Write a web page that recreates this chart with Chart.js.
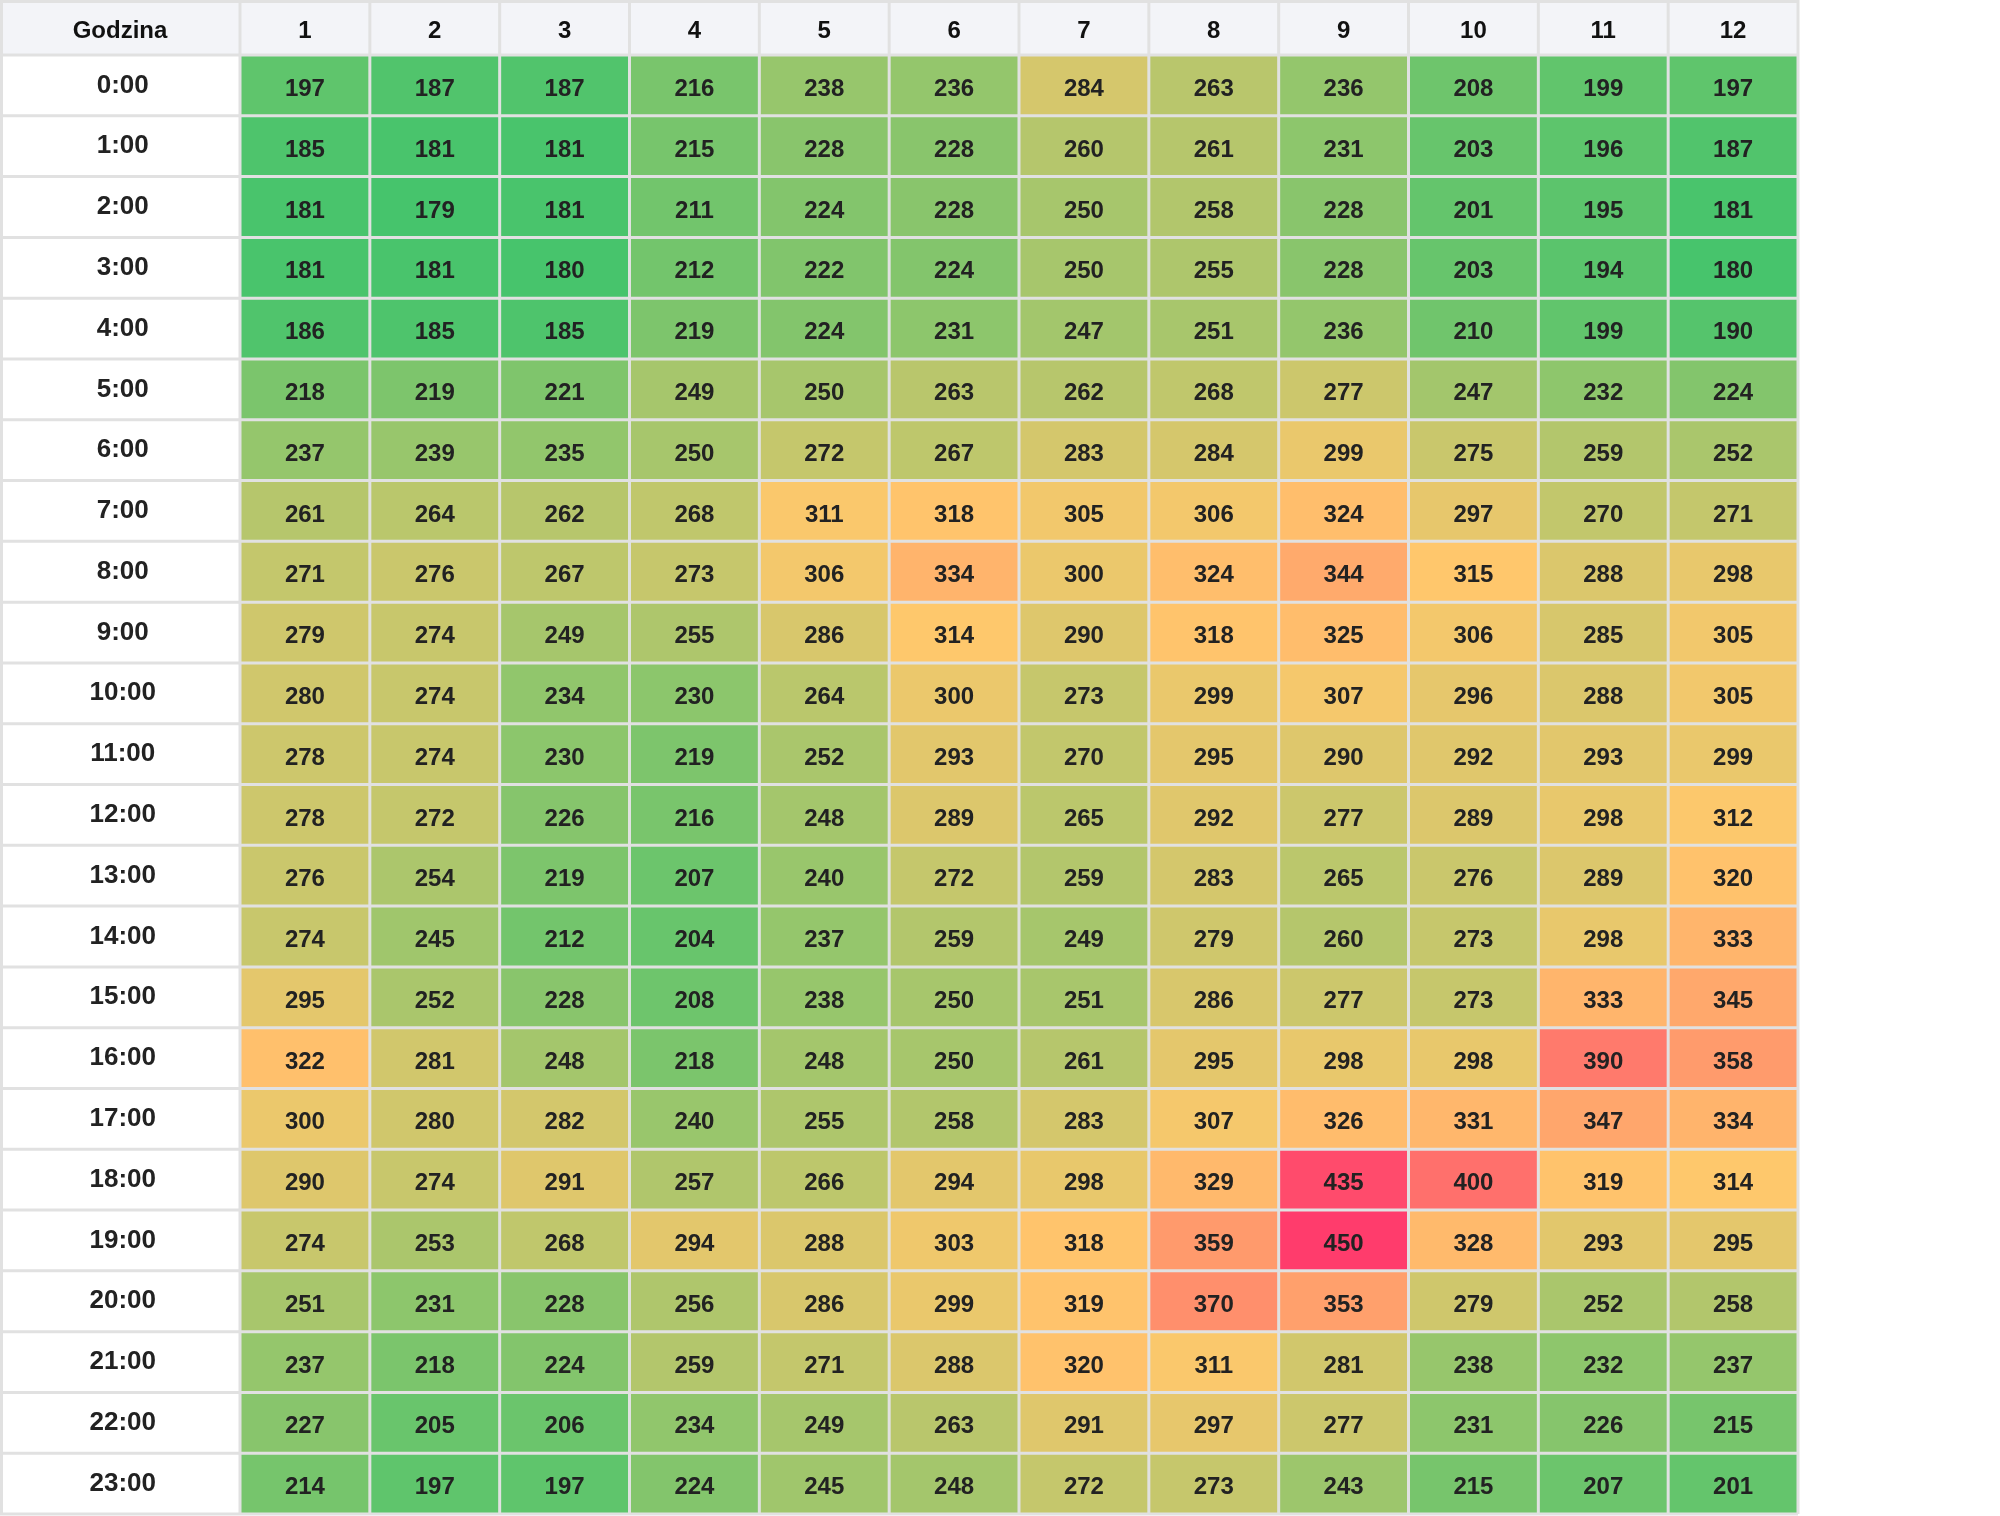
<!DOCTYPE html>
<html>
<head>
<meta charset="utf-8">
<title>Godzina</title>
<script src="https://cdn.jsdelivr.net/npm/chart.js@4.4.1/dist/chart.umd.min.js"></script>
<style>
  html, body { margin: 0; padding: 0; background: #fff; }
</style>
</head>
<body>
<canvas id="heat" width="2000" height="1516"></canvas>
<script>
/* table data */
const cornerLabel = 'Godzina';
const columns = ['1', '2', '3', '4', '5', '6', '7', '8', '9', '10', '11', '12'];
const hours = ['0:00', '1:00', '2:00', '3:00', '4:00', '5:00', '6:00', '7:00', '8:00', '9:00', '10:00', '11:00',
               '12:00', '13:00', '14:00', '15:00', '16:00', '17:00', '18:00', '19:00', '20:00', '21:00', '22:00', '23:00'];
const values = [
  [197, 187, 187, 216, 238, 236, 284, 263, 236, 208, 199, 197],
  [185, 181, 181, 215, 228, 228, 260, 261, 231, 203, 196, 187],
  [181, 179, 181, 211, 224, 228, 250, 258, 228, 201, 195, 181],
  [181, 181, 180, 212, 222, 224, 250, 255, 228, 203, 194, 180],
  [186, 185, 185, 219, 224, 231, 247, 251, 236, 210, 199, 190],
  [218, 219, 221, 249, 250, 263, 262, 268, 277, 247, 232, 224],
  [237, 239, 235, 250, 272, 267, 283, 284, 299, 275, 259, 252],
  [261, 264, 262, 268, 311, 318, 305, 306, 324, 297, 270, 271],
  [271, 276, 267, 273, 306, 334, 300, 324, 344, 315, 288, 298],
  [279, 274, 249, 255, 286, 314, 290, 318, 325, 306, 285, 305],
  [280, 274, 234, 230, 264, 300, 273, 299, 307, 296, 288, 305],
  [278, 274, 230, 219, 252, 293, 270, 295, 290, 292, 293, 299],
  [278, 272, 226, 216, 248, 289, 265, 292, 277, 289, 298, 312],
  [276, 254, 219, 207, 240, 272, 259, 283, 265, 276, 289, 320],
  [274, 245, 212, 204, 237, 259, 249, 279, 260, 273, 298, 333],
  [295, 252, 228, 208, 238, 250, 251, 286, 277, 273, 333, 345],
  [322, 281, 248, 218, 248, 250, 261, 295, 298, 298, 390, 358],
  [300, 280, 282, 240, 255, 258, 283, 307, 326, 331, 347, 334],
  [290, 274, 291, 257, 266, 294, 298, 329, 435, 400, 319, 314],
  [274, 253, 268, 294, 288, 303, 318, 359, 450, 328, 293, 295],
  [251, 231, 228, 256, 286, 299, 319, 370, 353, 279, 252, 258],
  [237, 218, 224, 259, 271, 288, 320, 311, 281, 238, 232, 237],
  [227, 205, 206, 234, 249, 263, 291, 297, 277, 231, 226, 215],
  [214, 197, 197, 224, 245, 248, 272, 273, 243, 215, 207, 201]
];

/* colour scale green -> amber -> red */
const allVals = values.flat();
const vMin = Math.min(...allVals);
const vMax = Math.max(...allVals);
const cLow = [70, 196, 108];
const cMid = [255, 200, 108];
const cHigh = [255, 60, 108];

function heatColor(v) {
  const mid = (vMin + vMax) / 2;
  let a, b, t;
  if (v <= mid) { a = cLow; b = cMid; t = (v - vMin) / (mid - vMin); }
  else { a = cMid; b = cHigh; t = (v - mid) / (vMax - mid); }
  const c = a.map((x, i) => Math.round(x + (b[i] - x) * t));
  return 'rgb(' + c.join(',') + ')';
}

const FONT = "'Liberation Sans', Arial, sans-serif";
const LINE = '#e1e1e1';

/* one dataset per hour row, floating bars from row i to i+1 */
const datasets = hours.map(function(h, i) {
  return {
    label: h,
    data: values[i].map(function(v, c) { return { x: columns[c], y: [i, i + 1], v: v }; }),
    backgroundColor: function(ctx) { return ctx.raw ? heatColor(ctx.raw.v) : '#fff'; },
    borderWidth: 0,
    barPercentage: 1,
    categoryPercentage: 1,
    grouped: false
  };
});

/* header band, table lines, cell numbers, corner text */
const tablePlugin = {
  id: 'tablePlugin',
  beforeDraw(chart) {
    const ctx = chart.ctx;
    const xs = chart.scales.x;
    ctx.save();
    ctx.fillStyle = '#f3f4f8';
    ctx.fillRect(0, 0, xs.right, xs.bottom);
    ctx.restore();
  },
  afterDatasetsDraw(chart) {
    const ctx = chart.ctx;
    const xs = chart.scales.x, ys = chart.scales.y;
    const colW = xs.getPixelForValue(1) - xs.getPixelForValue(0);

    // cell numbers
    ctx.save();
    ctx.font = 'bold 24px ' + FONT;
    ctx.fillStyle = '#222';
    ctx.textAlign = 'center';
    ctx.textBaseline = 'middle';
    chart.data.datasets.forEach(function(ds, i) {
      chart.getDatasetMeta(i).data.forEach(function(el, c) {
        const p = el.getCenterPoint();
        ctx.fillText(String(ds.data[c].v), p.x, p.y + 4);
      });
    });

    // corner label
    ctx.fillStyle = '#111';
    ctx.fillText(cornerLabel, (ys.left + ys.right) / 2, (xs.top + xs.bottom) / 2 + 4);

    // grid lines
    ctx.strokeStyle = LINE;
    ctx.lineWidth = 3;
    ctx.beginPath();
    const right = xs.right, bottom = ys.bottom;
    ctx.moveTo(1.5, 0); ctx.lineTo(1.5, bottom);
    for (let c = 0; c <= columns.length; c++) {
      const x = xs.getPixelForValue(c) - colW / 2;
      ctx.moveTo(x, 0); ctx.lineTo(x, bottom);
    }
    ctx.moveTo(0, 1.5); ctx.lineTo(right, 1.5);
    for (let r = 0; r <= hours.length; r++) {
      const y = ys.getPixelForValue(r);
      ctx.moveTo(0, y); ctx.lineTo(right, y);
    }
    ctx.stroke();
    ctx.restore();
  }
};

const heat = new Chart(document.getElementById('heat').getContext('2d'), {
  type: 'bar',
  data: { labels: columns, datasets: datasets },
  options: {
    responsive: false,
    animation: false,
    layout: { padding: { left: 0, top: 0, right: 202, bottom: 2 } },
    plugins: {
      legend: { display: false },
      tooltip: { enabled: false }
    },
    scales: {
      x: {
        type: 'category',
        position: 'top',
        offset: true,
        grid: { display: false, drawTicks: false },
        border: { display: false },
        ticks: { color: '#111', font: { family: FONT, size: 24, weight: 'bold' }, padding: 9, maxRotation: 0 },
        afterFit: function(scale) {
          scale.height = 55;
          scale.paddingLeft = 0; scale.paddingRight = 0;
        }
      },
      y: {
        type: 'linear',
        min: 0,
        max: hours.length,
        reverse: true,
        grid: { display: false, drawTicks: false },
        border: { display: false },
        afterBuildTicks: function(scale) {
          scale.ticks = hours.map(function(h, i) { return { value: i + 0.5 }; });
        },
        ticks: {
          color: '#222',
          font: { family: FONT, size: 26, weight: 'bold' },
          crossAlign: 'center',
          padding: 84,
          callback: function(value, index) { return hours[index]; }
        },
        afterFit: function(scale) {
          scale.width = 240;
          scale.paddingTop = 0; scale.paddingBottom = 0;
        }
      }
    }
  },
  plugins: [tablePlugin]
});
</script>
</body>
</html>
